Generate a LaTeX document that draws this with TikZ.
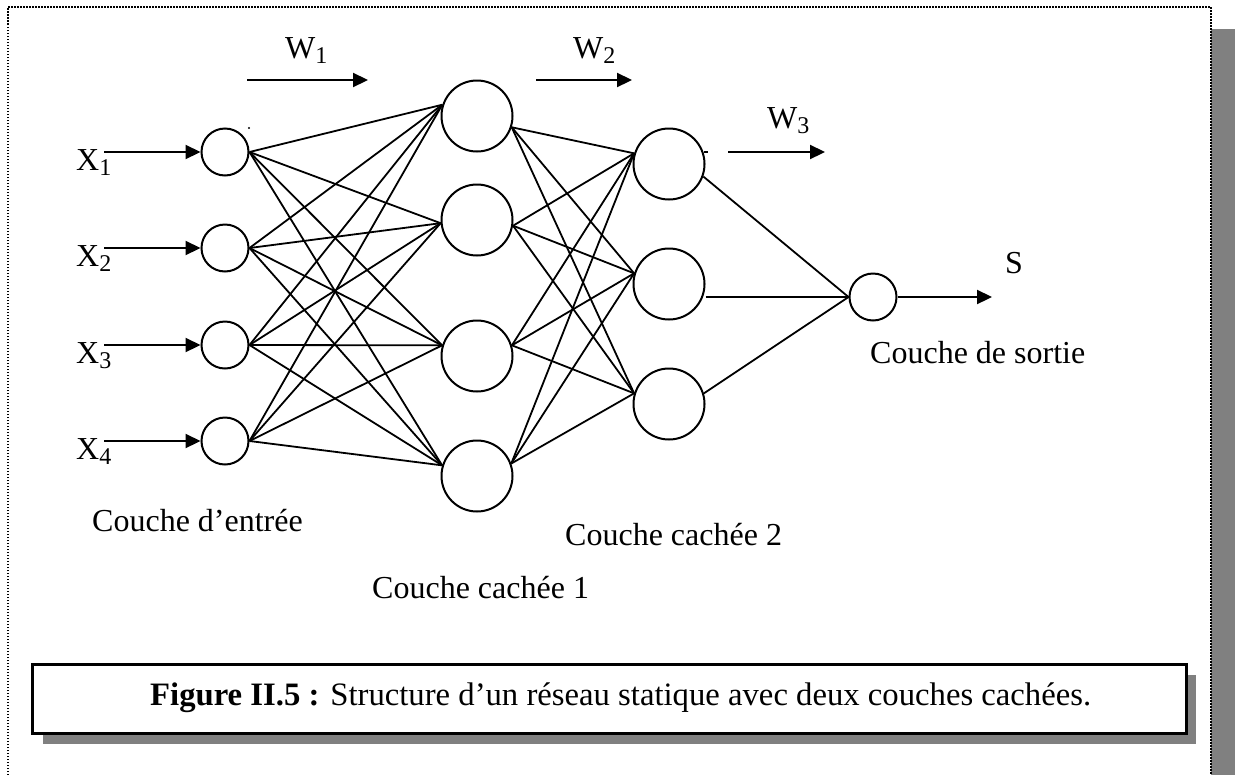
\documentclass[tikz,border=0pt]{standalone}
\usepackage{fontspec}
\setmainfont{Liberation Serif}
\usetikzlibrary{arrows.meta}
\definecolor{shadowgray}{RGB}{128,128,128}
\newcommand\lowsub[1]{\raisebox{-5pt}{\fontsize{24}{24}\selectfont #1}}

\begin{document}
\begin{tikzpicture}[x=1pt,y=-1pt,
  neuron/.style={circle,draw,line width=2pt,inner sep=0pt},
  smallneuron/.style={neuron,minimum size=47pt},
  bigneuron/.style={neuron,minimum size=71pt},
  wire/.style={line width=1.8pt},
  feed/.style={line width=2.2pt,-{Triangle[length=15pt,width=14pt]}},
  lbl/.style={anchor=base west,inner sep=0pt,font=\fontsize{32}{38}\selectfont},
  frame/.style={line width=1.5pt,dash pattern=on 1.5pt off 1.5pt},
]
\useasboundingbox (0,0) rectangle (1238,774);

% page frame with its shadow bar
\fill[shadowgray] (1211,29) rectangle (1235,780);
\draw[frame] (8,790) -- (8,7) -- (1211,7) -- (1211,790);

% input layer
\node[smallneuron] (i1) at (225,152) {};
\node[smallneuron] (i2) at (225,248) {};
\node[smallneuron] (i3) at (225,345) {};
\node[smallneuron] (i4) at (225,441) {};

% hidden layer 1
\node[bigneuron] (a1) at (477,116) {};
\node[bigneuron] (a2) at (477,220) {};
\node[bigneuron] (a3) at (477,356) {};
\node[bigneuron] (a4) at (477,476) {};

% hidden layer 2
\node[bigneuron] (b1) at (669,164) {};
\node[bigneuron] (b2) at (669,284) {};
\node[bigneuron] (b3) at (669,404) {};

% output neuron
\node[smallneuron] (o) at (873,297) {};

% input -> hidden 1
\foreach \i in {1,...,4}{
  \draw[wire] (i\i.east) -- (a1.162);
  \draw[wire] (i\i.east) -- (a2.185);
  \draw[wire] (i\i.east) -- (a3.163);
  \draw[wire] (i\i.east) -- (a4.163);
}

% hidden 1 -> hidden 2
\foreach \s/\a in {a1/-18,a2/-9,a3/17,a4/20}{
  \draw[wire] (\s.\a) -- (b1.163);
  \draw[wire] (\s.\a) -- (b2.163);
  \draw[wire] (\s.\a) -- (b3.163);
}

% hidden 2 -> output
\draw[wire] (b1.-20) -- (o.west);
\draw[wire] (b2.east |- o.west) -- (o.west);
\draw[wire] (b3.17) -- (o.west);

% input signals
\coordinate (s1) at (104,152);
\coordinate (s2) at (104,248);
\coordinate (s3) at (104,345);
\coordinate (s4) at (104,441);
\foreach \i in {1,...,4}{ \draw[feed] (s\i) -- (i\i.west); }
\node[lbl] (x1) at (76,170) {X\lowsub{1}};
\node[lbl] (x2) at (76,266) {X\lowsub{2}};
\node[lbl] (x3) at (76,363) {X\lowsub{3}};
\node[lbl] (x4) at (76,459) {X\lowsub{4}};

% output signal
\coordinate (out) at (992,297);
\draw[feed] (o.east) -- (out);
\node[lbl] (s) at (1005,273) {S};

% weight arrows
\coordinate (w1a) at (247,80);  \coordinate (w1b) at (368,80);
\coordinate (w2a) at (536,80);  \coordinate (w2b) at (632,80);
\coordinate (w3a) at (728,152); \coordinate (w3b) at (825,152);
\draw[feed] (w1a) -- (w1b);
\draw[feed] (w2a) -- (w2b);
\draw[feed] (w3a) -- (w3b);
\node[lbl] (w1) at (285,58) {W\lowsub{1}};
\node[lbl] (w2) at (573,58) {W\lowsub{2}};
\node[lbl] (w3) at (767,128) {W\lowsub{3}};

% stray marks
\fill (249,128) circle (1.2pt);
\fill (704,151) rectangle (708,153);

% layer names
\node[lbl] (l0) at (92,531) {Couche d’entrée};
\node[lbl] (l1) at (372,598) {Couche cachée 1};
\node[lbl] (l2) at (565,545) {Couche cachée 2};
\node[lbl] (l3) at (870,363) {Couche de sortie};

% caption box
\fill[shadowgray] (43,675) rectangle (1196,744);
\draw[line width=3pt,fill=white] (32,664) rectangle (1186,733);
\node[lbl,font=\fontsize{32.7}{38}\selectfont] (cap) at (150,705) {\textbf{Figure II.5 :} Structure d’un réseau statique avec deux couches cachées.};
\end{tikzpicture}
\end{document}
